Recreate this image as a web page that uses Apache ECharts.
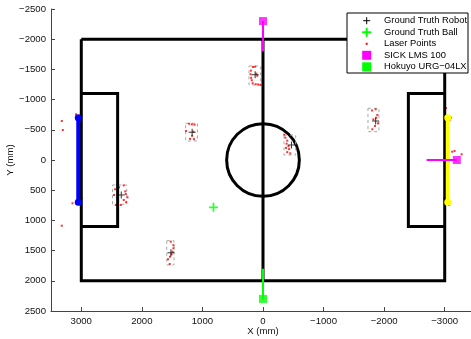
<!DOCTYPE html>
<html><head><meta charset="utf-8">
<script src="https://cdn.jsdelivr.net/npm/echarts@6/dist/echarts.min.js"></script>
<style>html,body{margin:0;padding:0;background:#fff}#c{width:471px;height:339px}</style>
</head><body><div id="c"></div>
<script>
// ---- data (mm) ----
const xTicks = [3000, 2000, 1000, 0, -1000, -2000, -3000];
const yTicks = [-2500, -2000, -1500, -1000, -500, 0, 500, 1000, 1500, 2000, 2500];
const fieldOuter = [[3000,-2000],[-3000,-2000],[-3000,2000],[3000,2000],[3000,-2000]];
const penaltyLeft = [[3000,-1100],[2400,-1100],[2400,1100],[3000,1100]];
const penaltyRight = [[-3000,-1100],[-2400,-1100],[-2400,1100],[-3000,1100]];
const centerLine = [[0,-2000],[0,2000]];
const centerCircle = [[0,0,600]];
const goalBlue = [[3050,-700],[3050,700]];
const goalYellow = [[-3050,-700],[-3050,700]];
const sickPositions = [[0,-2300],[-3200,0]];
const sickBeams = [[[0,-2300],[0,-1800]],[[-3200,0],[-2700,0]]];
const hokuyoPositions = [[0,2300]];
const hokuyoBeam = [[0,2300],[0,1800]];
const robots = [[130,-1410],[1170,-460],[2340,580],[1520,1535],[-1860,-646],[-470,-250]];
const ball = [[818,783]];
const robotBoxes = [
  [38,231,-1556,-1242],
  [1082,1277,-607,-315],
  [2249,2485,414,733],
  [1469,1589,1336,1738],
  [-1914,-1733,-856,-469],
  [-540,-347,-414,-83]
];
const laserPoints = [
  [165,-1540],[130,-1545],[200,-1480],[205,-1420],[195,-1360],[185,-1320],[170,-1270],[120,-1255],[80,-1250],[40,-1245],[110,-1430],[95,-1395],
  [1220,-600],[1175,-590],[1130,-585],[1270,-480],[1150,-470],[1170,-400],[1205,-350],[1140,-345],
  [2376,452],[2299,420],[2265,563],[2238,618],[2299,662],[2348,745],[2431,745],[2459,580],[2442,485],[2260,700],[2275,520],
  [1523,1352],[1479,1410],[1479,1462],[1495,1518],[1535,1601],[1568,1644],[1540,1722],[1510,1560],
  [-1860,-839],[-1800,-820],[-1888,-745],[-1822,-673],[-1898,-607],[-1848,-563],[-1805,-508],[-1870,-700],
  [-350,-420],[-370,-370],[-400,-320],[-390,-270],[-420,-230],[-430,-180],[-400,-130],[-450,-110],[-380,-200],
  [3087,-757],[3000,-750],[3040,-707],[2996,634],[3145,717],[3036,734],
  [-3020,-860],[-3000,-800],[-3030,-720],[-3080,-660],[-3100,-700],[-2990,640],[-3010,680],[-3050,700],[-3070,745],
  [-3125,-137],[-3279,-94],[-3163,-149],
  [3322,-646],[3305,-497],[3322,1088]
];
const legendNames = ['Ground Truth Robot','Ground Truth Ball','Laser Points','SICK LMS 100','Hokuyo URG\u221204LX'];

// ---- chart ----
const FONT = '"Liberation Sans", Arial, Helvetica, sans-serif';
const fmt = v => String(v).replace('-', '\u2212');
const chart = echarts.init(document.getElementById('c'), null, {renderer:'canvas'});
const plus = 'path://M3,0H4V3H7V4H4V7H3V4H0V3H3Z';
const plusBold = 'path://M4,0H6V4H10V6H6V10H4V6H0V4H4Z';
const blackLine = d => ({type:'line', data:d, symbol:'none', silent:true,
  lineStyle:{color:'#000', width:3, join:'miter'}, animation:false});

const lx = 347, ly = 13, rowY = [20.7, 32.3, 43.8, 55.3, 66.8], iconX = 366.7, textX = 384;
const seg = (x1,y1,x2,y2,color,w) => ({type:'line', z:101, shape:{x1:x1,y1:y1,x2:x2,y2:y2}, style:{stroke:color, lineWidth:w}});
const legendGraphics = [
  {type:'rect', shape:{x:lx, y:ly, width:121, height:60}, style:{fill:'#fff', stroke:'#000', lineWidth:1}, z:100},
  seg(iconX, rowY[0]-3.5, iconX, rowY[0]+3.5, '#000', 1),
  seg(iconX-3.5, rowY[0], iconX+3.5, rowY[0], '#000', 1),
  seg(iconX, rowY[1]-4.5, iconX, rowY[1]+4.5, '#00ff00', 2),
  seg(iconX-4.5, rowY[1], iconX+4.5, rowY[1], '#00ff00', 2),
  {type:'rect', shape:{x:iconX-1, y:rowY[2]-1, width:2, height:2}, style:{fill:'#ff0000'}, z:101},
  {type:'rect', shape:{x:iconX-4.5, y:rowY[3]-4.5, width:9, height:9}, style:{fill:'#ff00ff'}, z:101},
  {type:'rect', shape:{x:iconX-4.5, y:rowY[4]-4.5, width:9, height:9}, style:{fill:'#00ff00'}, z:101}
];
legendNames.forEach((n,i)=>legendGraphics.push({type:'text', x:textX, y:rowY[i], z:101,
  style:{text:n, fill:'#000', font:'9.4px '+FONT, verticalAlign:'middle', align:'left'}}));

const option = {
  animation:false,
  backgroundColor:'#fff',
  grid:{left:51, top:9, width:424, height:302, containLabel:false, outerBoundsMode:'none'},
  xAxis:{type:'value', min:-3500, max:3500, inverse:true,
    name:'X (mm)', nameLocation:'middle', nameGap:20, nameMoveOverlap:false,
    nameTextStyle:{color:'#111', fontSize:9.6, fontFamily:FONT, verticalAlign:'middle', padding:0},
    axisLine:{show:true, onZero:false, lineStyle:{color:'#444', width:1}},
    axisTick:{show:true, inside:true, length:4, customValues:xTicks, lineStyle:{color:'#444'}},
    axisLabel:{customValues:xTicks, formatter:fmt, color:'#111', fontSize:9.6, fontFamily:FONT, margin:5},
    splitLine:{show:false}},
  yAxis:{type:'value', min:-2500, max:2500, inverse:true,
    name:'Y (mm)', nameLocation:'middle', nameGap:41, nameRotate:90, nameMoveOverlap:false,
    nameTextStyle:{color:'#111', fontSize:9.6, fontFamily:FONT, verticalAlign:'middle', padding:0},
    axisLine:{show:true, onZero:false, lineStyle:{color:'#444', width:1}},
    axisTick:{show:true, inside:true, length:4, customValues:yTicks, lineStyle:{color:'#444'}},
    axisLabel:{customValues:yTicks, formatter:fmt, color:'#111', fontSize:9.6, fontFamily:FONT, margin:5},
    splitLine:{show:false}},
  graphic:legendGraphics,
  series:[
    blackLine(fieldOuter), blackLine(penaltyLeft), blackLine(penaltyRight), blackLine(centerLine),
    {type:'custom', data:centerCircle, silent:true, encode:{x:0,y:1},
      renderItem:(p,api)=>{const c=api.coord([api.value(0),api.value(1)]);const r=api.size([api.value(2),0])[0];
        return {type:'circle', shape:{cx:c[0], cy:c[1], r:r}, style:{fill:'none', stroke:'#000', lineWidth:3}};}},
    {type:'line', data:goalBlue, symbol:'circle', symbolSize:7, showAllSymbol:true, silent:true,
      itemStyle:{color:'#0000ff'}, lineStyle:{color:'#0000ff', width:4}},
    {type:'line', data:goalYellow, symbol:'circle', symbolSize:7, showAllSymbol:true, silent:true,
      itemStyle:{color:'#ffff00'}, lineStyle:{color:'#ffff00', width:4}},
    {type:'line', data:sickBeams[0], symbol:'none', silent:true, lineStyle:{color:'#ff00ff', width:2}},
    {type:'line', data:sickBeams[1], symbol:'none', silent:true, lineStyle:{color:'#ff00ff', width:2}},
    {type:'line', data:hokuyoBeam, symbol:'none', silent:true, lineStyle:{color:'#00ff00', width:2}},
    {type:'scatter', data:sickPositions, symbol:'rect', symbolSize:8, silent:true, itemStyle:{color:'#ff00ff'}},
    {type:'scatter', data:hokuyoPositions, symbol:'rect', symbolSize:8, silent:true, itemStyle:{color:'#00ff00'}},
    {type:'custom', data:robotBoxes, silent:true, encode:{x:[0,1], y:[2,3]},
      renderItem:(p,api)=>{const a=api.coord([api.value(0),api.value(2)]);const b=api.coord([api.value(1),api.value(3)]);
        return {type:'rect', shape:{x:Math.min(a[0],b[0]), y:Math.min(a[1],b[1]), width:Math.abs(a[0]-b[0]), height:Math.abs(a[1]-b[1])},
          style:{fill:'none', stroke:'#a8a8a8', lineWidth:1, lineDash:[3,3]}};}},
    {type:'scatter', data:laserPoints, symbol:'rect', symbolSize:2, silent:true, itemStyle:{color:'#ff0000'}},
    {type:'scatter', data:robots, symbol:plus, symbolSize:7, silent:true, itemStyle:{color:'#000'}},
    {type:'scatter', data:ball, symbol:plusBold, symbolSize:9, silent:true, itemStyle:{color:'#00ff00'}}
  ]
};
chart.setOption(option);
</script></body></html>
